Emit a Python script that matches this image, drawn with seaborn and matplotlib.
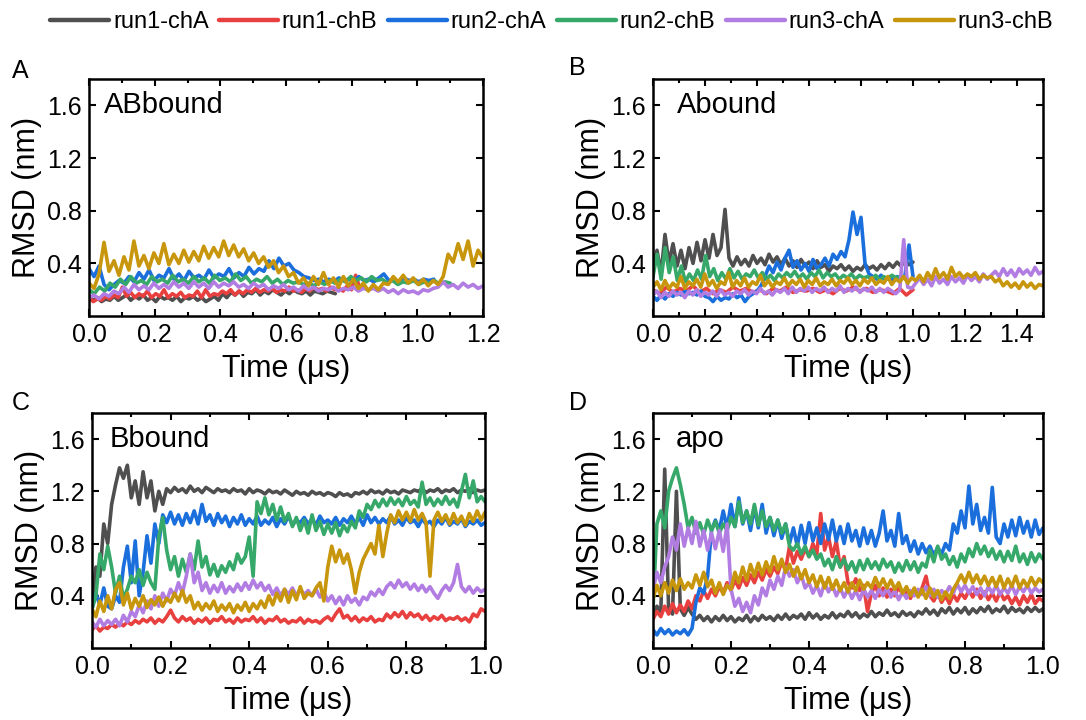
import matplotlib

matplotlib.use("Agg")
import matplotlib.pyplot as plt
import numpy as np
import pandas as pd
import seaborn as sns
from matplotlib.lines import Line2D
from matplotlib.ticker import MultipleLocator

sns.set_theme(style="ticks")
plt.rcParams["font.family"] = ["Liberation Sans", "DejaVu Sans"]
plt.rcParams["text.color"] = "black"
plt.rcParams["axes.labelcolor"] = "black"

SERIES = ["run1-chA", "run1-chB", "run2-chA", "run2-chB", "run3-chA", "run3-chB"]
COLORS = ["#4f4f4f", "#e8403f", "#1b6fdc", "#36a86a", "#b27de2", "#c8960c"]
PANEL_TITLES = ["ABbound", "Abound", "Bbound", "apo"]
PANEL_LETTERS = ["A", "B", "C", "D"]
XMAX = [1.2, 1.5, 1.0, 1.0]

# ---- ABbound (evenly spaced in time up to END) ----
AB_END = [0.75, 0.85, 1.05, 1.1, 1.2, 1.2]
ab_r1a = [0.15,0.12,0.14,0.11,0.13,0.12,0.15,0.12,0.14,0.16,0.12,0.15,0.13,0.16,0.12,0.14,0.11,0.15,0.13,0.14,
          0.12,0.15,0.11,0.14,0.13,0.15,0.12,0.14,0.11,0.13,0.15,0.12,0.17,0.14,0.18,0.16,0.19,0.15,0.18,0.17,
          0.2,0.16,0.19,0.17,0.2,0.18,0.16,0.19,0.17,0.2,0.18,0.17,0.19,0.16,0.19,0.18,0.17,0.19,0.18,0.17]
ab_r1b = [0.14,0.11,0.13,0.12,0.15,0.13,0.16,0.14,0.22,0.15,0.18,0.14,0.17,0.15,0.19,0.14,0.17,0.15,0.2,0.14,
          0.17,0.15,0.18,0.14,0.16,0.15,0.19,0.14,0.2,0.15,0.17,0.16,0.19,0.17,0.2,0.16,0.19,0.17,0.2,0.18,
          0.21,0.18,0.2,0.19,0.21,0.18,0.2,0.19,0.22,0.19,0.2,0.18,0.21,0.19,0.22,0.2,0.21,0.19,0.22,0.2,
          0.21,0.19,0.23,0.2,0.31,0.21,0.22,0.2]
ab_r2a = [0.36,0.3,0.38,0.24,0.2,0.24,0.27,0.25,0.3,0.26,0.33,0.28,0.35,0.27,0.31,0.29,0.36,0.28,0.32,0.27,
          0.34,0.29,0.31,0.28,0.35,0.29,0.32,0.3,0.36,0.29,0.33,0.3,0.37,0.32,0.36,0.34,0.42,0.36,0.44,0.38,
          0.4,0.35,0.33,0.3,0.29,0.27,0.28,0.26,0.28,0.26,0.29,0.27,0.28,0.26,0.3,0.27,0.28,0.26,0.29,0.32,
          0.27,0.28,0.26,0.29,0.27,0.28,0.26,0.28,0.27,0.28]
ab_r2b = [0.2,0.17,0.22,0.19,0.25,0.22,0.28,0.24,0.3,0.25,0.27,0.24,0.3,0.26,0.28,0.25,0.31,0.26,0.28,0.25,
          0.3,0.26,0.29,0.25,0.31,0.27,0.29,0.26,0.32,0.27,0.3,0.25,0.28,0.26,0.3,0.25,0.28,0.24,0.27,0.25,
          0.26,0.24,0.25,0.23,0.26,0.24,0.27,0.25,0.28,0.26,0.3,0.27,0.29,0.26,0.3,0.27,0.28,0.25,0.27,0.24,
          0.26,0.25,0.27,0.24,0.26,0.25,0.27,0.24,0.26,0.25]
ab_r3a = [0.14,0.16,0.13,0.17,0.15,0.19,0.17,0.22,0.18,0.24,0.2,0.23,0.2,0.25,0.21,0.24,0.21,0.26,0.22,0.25,
          0.21,0.26,0.22,0.25,0.21,0.26,0.22,0.25,0.23,0.26,0.22,0.24,0.21,0.25,0.22,0.24,0.2,0.23,0.21,0.24,
          0.2,0.22,0.19,0.23,0.2,0.22,0.19,0.21,0.2,0.22,0.19,0.21,0.2,0.22,0.19,0.21,0.2,0.21,0.19,0.21,
          0.18,0.2,0.17,0.2,0.18,0.19,0.17,0.2,0.19,0.21,0.22,0.26,0.22,0.24,0.21,0.25,0.22,0.24,0.21,0.23]
ab_r3b = [0.25,0.21,0.32,0.56,0.34,0.42,0.31,0.45,0.35,0.57,0.38,0.46,0.36,0.48,0.4,0.55,0.39,0.47,0.4,0.5,
          0.41,0.49,0.42,0.53,0.44,0.52,0.45,0.57,0.46,0.54,0.45,0.51,0.42,0.48,0.4,0.45,0.37,0.42,0.33,0.38,
          0.3,0.33,0.25,0.29,0.23,0.3,0.24,0.33,0.24,0.29,0.22,0.3,0.23,0.28,0.21,0.25,0.19,0.24,0.2,0.25,
          0.24,0.3,0.26,0.31,0.25,0.29,0.24,0.28,0.23,0.27,0.24,0.3,0.47,0.41,0.55,0.43,0.57,0.38,0.5,0.44]

# ---- Abound ----
B_END = [1.0, 1.0, 1.0, 0.95, 1.5, 1.5]
bb_r1a = [0.38,0.5,0.32,0.62,0.4,0.55,0.38,0.5,0.36,0.52,0.4,0.56,0.42,0.58,0.44,0.62,0.46,0.52,0.81,0.44,
          0.38,0.45,0.39,0.43,0.38,0.46,0.4,0.44,0.39,0.47,0.41,0.45,0.39,0.44,0.38,0.42,0.37,0.43,0.38,0.41,
          0.36,0.42,0.37,0.39,0.34,0.38,0.36,0.39,0.35,0.38,0.34,0.37,0.35,0.39,0.36,0.38,0.35,0.39,0.36,0.4,
          0.37,0.41,0.38,0.42,0.39,0.41]
bb_r1b = [0.2,0.17,0.22,0.18,0.21,0.19,0.23,0.18,0.21,0.17,0.2,0.18,0.22,0.19,0.21,0.18,0.2,0.17,0.21,0.19,
          0.22,0.18,0.2,0.19,0.21,0.18,0.2,0.17,0.21,0.19,0.22,0.19,0.21,0.18,0.2,0.19,0.17,0.21,0.16,0.2]
bb_r2a = [0.15,0.12,0.16,0.13,0.17,0.15,0.18,0.16,0.19,0.17,0.18,0.16,0.19,0.15,0.14,0.11,0.15,0.12,0.14,0.13,
          0.17,0.14,0.16,0.11,0.15,0.17,0.19,0.23,0.3,0.38,0.33,0.41,0.35,0.44,0.5,0.37,0.42,0.35,0.4,0.34,
          0.43,0.36,0.39,0.44,0.38,0.47,0.43,0.49,0.45,0.58,0.79,0.62,0.75,0.4,0.32,0.3,0.28,0.31,0.28,0.3,
          0.27,0.3,0.28,0.31,0.54,0.3]
bb_r2b = [0.3,0.47,0.28,0.52,0.33,0.45,0.27,0.38,0.26,0.32,0.27,0.35,0.28,0.46,0.3,0.36,0.27,0.33,0.28,0.36,
          0.29,0.34,0.28,0.32,0.3,0.35,0.29,0.33,0.28,0.31,0.27,0.32,0.29,0.33,0.3,0.34,0.29,0.32,0.28,0.33,
          0.3,0.35,0.29,0.33,0.3,0.32,0.28,0.31,0.29,0.32,0.28,0.31,0.29,0.3,0.28,0.31,0.27,0.3,0.28,0.31,
          0.29,0.3]
bb_r3a = [0.16,0.19,0.14,0.18,0.15,0.19,0.16,0.18,0.14,0.19,0.16,0.2,0.15,0.18,0.16,0.19,0.15,0.2,0.16,0.18,
          0.15,0.19,0.17,0.2,0.16,0.19,0.17,0.21,0.17,0.19,0.16,0.2,0.18,0.21,0.17,0.22,0.18,0.21,0.19,0.22,
          0.18,0.21,0.19,0.22,0.18,0.21,0.19,0.23,0.18,0.21,0.19,0.22,0.18,0.21,0.19,0.22,0.18,0.21,0.18,0.21,
          0.19,0.17,0.2,0.58,0.22,0.21,0.25,0.29,0.24,0.28,0.23,0.3,0.25,0.28,0.24,0.3,0.26,0.29,0.25,0.31,
          0.27,0.3,0.26,0.32,0.28,0.31,0.34,0.3,0.36,0.31,0.35,0.3,0.36,0.32,0.35,0.31,0.37,0.32,0.34]
bb_r3b = [0.22,0.26,0.2,0.27,0.21,0.25,0.22,0.3,0.21,0.26,0.23,0.28,0.22,0.32,0.23,0.27,0.21,0.26,0.24,0.33,
          0.22,0.27,0.23,0.29,0.22,0.26,0.24,0.31,0.23,0.27,0.22,0.26,0.24,0.29,0.23,0.27,0.24,0.28,0.22,0.27,
          0.24,0.29,0.23,0.26,0.24,0.28,0.23,0.27,0.25,0.29,0.24,0.27,0.23,0.28,0.25,0.29,0.24,0.27,0.25,0.3,
          0.24,0.28,0.26,0.3,0.25,0.29,0.27,0.31,0.26,0.33,0.28,0.36,0.29,0.33,0.28,0.37,0.3,0.33,0.29,0.32,
          0.3,0.33,0.28,0.31,0.29,0.3,0.26,0.28,0.23,0.26,0.22,0.25,0.21,0.26,0.22,0.25,0.21,0.24,0.23]

# ---- Bbound ----
C_END = [1.0, 1.0, 1.0, 1.0, 1.0, 1.0]
cb_r1a = [0.35,0.62,0.55,0.95,0.8,1.1,1.25,1.38,1.3,1.4,1.15,1.28,1.1,1.35,1.15,1.28,1.05,1.2,1.1,1.22,
          1.19,1.23,1.2,1.22,1.19,1.24,1.2,1.22,1.19,1.23,1.21,1.19,1.22,1.2,1.21,1.19,1.22,1.2,1.21,1.18,
          1.22,1.19,1.21,1.2,1.18,1.21,1.19,1.2,1.18,1.21,1.19,1.17,1.2,1.18,1.19,1.17,1.2,1.18,1.19,1.17,
          1.19,1.18,1.16,1.19,1.17,1.18,1.16,1.19,1.18,1.2,1.18,1.21,1.19,1.2,1.18,1.21,1.19,1.2,1.18,1.21,
          1.2,1.19,1.21,1.2,1.22,1.19,1.21,1.2,1.22,1.19,1.21,1.2,1.22,1.19,1.21,1.2,1.22,1.19,1.21,1.2,1.21]
cb_r1b = [0.14,0.17,0.13,0.16,0.15,0.18,0.16,0.19,0.17,0.2,0.18,0.21,0.19,0.22,0.2,0.23,0.19,0.22,0.2,0.24,
          0.29,0.23,0.2,0.24,0.21,0.23,0.19,0.22,0.2,0.23,0.19,0.22,0.21,0.24,0.2,0.22,0.19,0.23,0.2,0.22,
          0.21,0.24,0.2,0.23,0.19,0.22,0.21,0.24,0.2,0.22,0.19,0.21,0.2,0.23,0.19,0.22,0.2,0.21,0.19,0.22,
          0.24,0.21,0.26,0.3,0.23,0.25,0.21,0.24,0.2,0.23,0.21,0.24,0.2,0.22,0.21,0.26,0.23,0.27,0.24,0.28,
          0.23,0.27,0.24,0.26,0.22,0.25,0.21,0.24,0.22,0.25,0.21,0.23,0.22,0.24,0.21,0.23,0.2,0.26,0.24,0.3,0.28]
cb_r2a = [0.3,0.42,0.33,0.46,0.32,0.3,0.4,0.35,0.62,0.78,0.5,0.82,0.4,0.58,0.86,0.65,0.95,0.8,1.02,0.96,
          1.04,0.95,1.02,0.94,1.03,0.96,1.05,0.95,1.1,0.97,1.02,0.94,1.03,0.96,1.01,0.93,1.0,0.95,1.02,0.94,
          0.99,0.95,1.01,0.94,0.98,0.95,1.0,0.93,0.99,0.95,1.01,0.94,0.98,0.96,1.0,0.95,0.99,0.94,1.01,0.96,
          0.98,0.95,1.0,0.94,0.99,0.96,1.01,0.95,1.0,0.94,1.02,0.96,1.0,0.95,0.99,0.96,1.01,0.95,0.98,0.94,
          1.0,0.96,0.98,0.93,0.99,0.95,0.97,0.93,0.98,0.95,1.0,0.94,0.97,0.95,0.99,0.93,0.97,0.95,0.98,0.94,0.96]
cb_r2b = [0.3,0.4,0.72,0.6,0.78,0.62,0.42,0.55,0.38,0.45,0.55,0.5,0.6,0.48,0.58,0.5,0.45,0.85,1.0,0.75,
          0.6,0.7,0.55,0.68,0.58,0.72,0.6,0.82,0.62,0.7,0.56,0.64,0.55,0.63,0.58,0.66,0.6,0.72,0.65,0.7,
          0.85,0.55,1.12,1.03,1.15,1.02,1.1,0.98,1.08,0.97,1.03,0.93,1.0,0.9,0.98,0.88,1.02,0.9,0.97,0.87,
          0.95,0.88,0.96,0.86,0.94,0.89,0.97,0.92,1.05,1.0,1.1,1.06,1.13,1.08,1.14,1.09,1.15,1.1,1.14,1.09,
          1.16,1.1,1.13,1.08,1.27,1.1,1.15,1.09,1.14,1.1,1.16,1.1,1.14,1.08,1.2,1.33,1.15,1.28,1.12,1.16,1.12]
cb_r3a = [0.2,0.16,0.22,0.17,0.21,0.18,0.22,0.17,0.25,0.2,0.28,0.24,0.33,0.27,0.36,0.3,0.4,0.32,0.42,0.36,
          0.45,0.4,0.5,0.42,0.55,0.72,0.5,0.58,0.44,0.5,0.42,0.48,0.43,0.5,0.42,0.47,0.43,0.49,0.44,0.5,
          0.45,0.52,0.46,0.5,0.44,0.48,0.41,0.46,0.4,0.45,0.41,0.46,0.4,0.45,0.41,0.44,0.4,0.45,0.39,0.43,
          0.36,0.4,0.34,0.39,0.33,0.4,0.35,0.38,0.33,0.39,0.37,0.43,0.4,0.45,0.41,0.47,0.5,0.46,0.52,0.47,
          0.5,0.45,0.49,0.44,0.48,0.43,0.47,0.42,0.38,0.44,0.48,0.44,0.5,0.64,0.47,0.43,0.47,0.42,0.46,0.43,0.45]
cb_r3b = [0.3,0.24,0.36,0.28,0.4,0.3,0.45,0.5,0.33,0.42,0.3,0.38,0.32,0.4,0.31,0.37,0.33,0.39,0.32,0.38,
          0.35,0.42,0.36,0.44,0.35,0.4,0.3,0.35,0.29,0.34,0.3,0.36,0.28,0.33,0.29,0.34,0.27,0.33,0.29,0.35,
          0.28,0.34,0.3,0.36,0.31,0.4,0.33,0.42,0.36,0.45,0.35,0.44,0.37,0.47,0.38,0.42,0.4,0.46,0.5,0.36,
          0.62,0.78,0.66,0.75,0.65,0.72,0.6,0.42,0.58,0.68,0.74,0.8,0.72,0.94,0.7,0.88,1.02,0.96,1.05,0.98,
          1.04,0.97,1.06,0.98,1.03,0.96,0.55,0.98,1.04,0.97,1.02,0.95,1.03,0.96,1.01,0.94,1.03,0.97,1.05,0.98,1.04]

# ---- apo ----
D_END = [1.0, 1.0, 1.0, 1.0, 1.0, 1.0]
db_r1a = [0.25,0.32,0.27,1.37,0.3,0.26,1.2,0.3,0.25,0.31,0.26,0.22,0.25,0.21,0.24,0.2,0.24,0.21,0.25,0.21,
          0.24,0.2,0.23,0.21,0.25,0.2,0.24,0.21,0.25,0.22,0.24,0.21,0.25,0.22,0.26,0.22,0.25,0.23,0.26,0.22,
          0.27,0.23,0.26,0.22,0.25,0.23,0.27,0.23,0.26,0.24,0.28,0.24,0.27,0.23,0.26,0.24,0.28,0.24,0.27,0.25,
          0.29,0.25,0.27,0.24,0.28,0.25,0.27,0.24,0.28,0.26,0.3,0.26,0.29,0.25,0.3,0.27,0.31,0.26,0.3,0.27,
          0.31,0.26,0.3,0.27,0.31,0.28,0.32,0.27,0.3,0.28,0.32,0.27,0.31,0.28,0.3,0.27,0.31,0.28,0.31,0.28,0.3]
db_r1b = [0.22,0.28,0.24,0.32,0.26,0.34,0.27,0.33,0.28,0.36,0.3,0.4,0.36,0.44,0.38,0.45,0.4,0.47,0.42,0.5,
          0.44,0.52,0.46,0.54,0.48,0.56,0.5,0.58,0.52,0.6,0.55,0.62,0.57,0.66,0.6,0.78,0.65,0.74,0.68,0.76,
          0.7,0.8,0.72,1.03,0.75,0.85,0.7,0.82,0.62,0.7,0.5,0.46,0.53,0.44,0.48,0.28,0.42,0.48,0.4,0.46,
          0.39,0.45,0.4,0.47,0.41,0.44,0.38,0.45,0.4,0.46,0.55,0.4,0.36,0.42,0.35,0.4,0.34,0.41,0.36,0.42,
          0.38,0.44,0.39,0.45,0.38,0.43,0.37,0.42,0.36,0.43,0.37,0.4,0.34,0.39,0.33,0.4,0.35,0.41,0.34,0.38,0.36]
db_r2a = [0.14,0.1,0.15,0.11,0.14,0.1,0.13,0.11,0.14,0.1,0.15,0.35,0.46,0.42,0.55,0.9,0.98,0.9,1.05,0.92,
          1.1,0.93,1.15,0.95,1.05,0.9,1.08,0.92,1.1,0.88,1.0,0.86,0.98,0.84,0.95,0.8,0.92,0.78,0.94,0.8,
          0.96,0.82,0.92,0.8,0.95,0.83,0.98,0.82,0.93,0.8,0.95,0.82,0.9,0.78,0.92,0.8,0.9,0.78,0.88,1.05,
          0.82,0.9,0.78,1.03,0.8,0.86,0.74,0.82,0.72,0.8,0.73,0.78,0.71,0.77,0.72,0.8,0.75,0.95,0.88,1.05,
          0.92,1.24,0.95,1.1,0.9,1.0,0.88,1.23,0.85,0.8,0.95,0.85,0.98,0.86,1.0,0.88,0.97,0.85,0.98,0.87,0.92]
db_r2b = [0.3,0.95,1.05,0.92,1.2,1.3,1.38,1.25,1.1,0.92,1.0,0.88,0.96,0.87,0.98,0.9,0.97,0.88,0.95,0.9,
          1.0,0.93,1.12,0.96,1.05,0.95,1.1,0.94,1.05,0.93,1.0,0.9,0.98,0.88,0.95,0.78,0.75,0.8,0.72,0.78,
          0.7,0.75,0.68,0.72,0.63,0.68,0.6,0.7,0.62,0.68,0.6,0.66,0.58,0.67,0.6,0.68,0.61,0.66,0.6,0.68,
          0.62,0.66,0.58,0.65,0.59,0.67,0.6,0.66,0.58,0.65,0.62,0.75,0.66,0.78,0.68,0.72,0.64,0.7,0.62,0.72,
          0.66,0.76,0.7,0.8,0.72,0.78,0.7,0.76,0.68,0.74,0.66,0.74,0.67,0.78,0.66,0.72,0.64,0.73,0.66,0.72,0.68]
db_r3a = [0.45,0.58,0.5,0.62,0.7,0.85,0.75,0.95,0.78,0.92,0.8,0.97,0.78,0.9,0.75,0.88,0.76,0.9,0.74,0.95,
          0.45,0.32,0.38,0.28,0.35,0.27,0.4,0.33,0.46,0.4,0.52,0.45,0.55,0.48,0.62,0.55,0.6,0.5,0.56,0.46,
          0.5,0.42,0.48,0.4,0.5,0.43,0.48,0.4,0.46,0.39,0.45,0.38,0.44,0.37,0.45,0.39,0.44,0.38,0.45,0.4,
          0.46,0.39,0.44,0.37,0.43,0.38,0.44,0.4,0.45,0.41,0.47,0.4,0.45,0.39,0.44,0.41,0.47,0.42,0.49,0.43,
          0.48,0.42,0.47,0.41,0.46,0.4,0.47,0.42,0.48,0.41,0.46,0.42,0.48,0.41,0.47,0.43,0.48,0.42,0.46,0.43,0.45]
db_r3b = [0.38,0.48,0.4,0.5,0.42,0.52,0.44,0.53,0.45,0.5,0.46,0.56,0.48,0.58,0.47,0.52,0.42,0.5,0.41,0.48,
          0.45,0.58,0.5,0.62,0.52,0.64,0.55,0.65,0.56,0.66,0.58,0.7,0.6,0.68,0.58,0.64,0.55,0.62,0.53,0.6,
          0.5,0.56,0.47,0.55,0.46,0.54,0.45,0.52,0.44,0.5,0.43,0.5,0.44,0.52,0.45,0.5,0.46,0.54,0.47,0.53,
          0.46,0.52,0.45,0.5,0.42,0.47,0.4,0.46,0.39,0.45,0.38,0.46,0.39,0.44,0.37,0.43,0.38,0.45,0.5,0.56,
          0.5,0.58,0.5,0.56,0.49,0.55,0.48,0.54,0.47,0.55,0.46,0.53,0.47,0.55,0.46,0.52,0.47,0.54,0.48,0.53,0.5]

PANELS = [
    (AB_END, [ab_r1a, ab_r1b, ab_r2a, ab_r2b, ab_r3a, ab_r3b]),
    (B_END, [bb_r1a, bb_r1b, bb_r2a, bb_r2b, bb_r3a, bb_r3b]),
    (C_END, [cb_r1a, cb_r1b, cb_r2a, cb_r2b, cb_r3a, cb_r3b]),
    (D_END, [db_r1a, db_r1b, db_r2a, db_r2b, db_r3a, db_r3b]),
]


def panel_frame(ends, series_vals):
    parts = []
    for name, end, vals in zip(SERIES, ends, series_vals):
        parts.append(pd.DataFrame({"t": np.linspace(0, end, len(vals)),
                                   "rmsd": vals, "run": name}))
    return pd.concat(parts, ignore_index=True)


# axes boxes in figure fractions [left, bottom, width, height]
BOXES = [[0.082, 0.561, 0.3628, 0.3292],
         [0.6013, 0.561, 0.3591, 0.3292],
         [0.0847, 0.100, 0.3619, 0.3264],
         [0.6013, 0.100, 0.3591, 0.3264]]
TITLE_X = [0.038, 0.062, 0.046, 0.059]
LETTER_POS = [(0.011, 0.892), (0.524, 0.896), (0.011, 0.431), (0.524, 0.431)]

fig = plt.figure(figsize=(10.86, 7.2), dpi=100)
pal = dict(zip(SERIES, COLORS))

for i, (ends, vals) in enumerate(PANELS):
    ax = fig.add_axes(BOXES[i])
    df = panel_frame(ends, vals)
    sns.lineplot(data=df, x="t", y="rmsd", hue="run", hue_order=SERIES, palette=pal,
                 estimator=None, sort=False, lw=2.6, legend=False, ax=ax)
    ax.set_xlim(0, XMAX[i]); ax.set_ylim(0, 1.8)
    ax.xaxis.set_major_locator(MultipleLocator(0.2))
    ax.xaxis.set_minor_locator(MultipleLocator(0.1))
    ax.set_yticks([0.4, 0.8, 1.2, 1.6])
    ax.tick_params(which="both", direction="in", top=True, right=True, width=1.5,
                   labelsize=18, pad=5, colors="black")
    ax.tick_params(which="major", length=5)
    ax.tick_params(which="minor", length=3)
    for s in ax.spines.values():
        s.set_linewidth(1.8); s.set_color("black")
    ax.set_xlabel("Time (μs)", fontsize=22, labelpad=5)
    ax.set_ylabel("RMSD (nm)", fontsize=22, labelpad=4)
    ax.text(TITLE_X[i], 0.95, PANEL_TITLES[i], transform=ax.transAxes,
            fontsize=21, va="top", ha="left")
    fig.text(LETTER_POS[i][0], LETTER_POS[i][1], PANEL_LETTERS[i], fontsize=18,
             va="baseline", ha="left")

handles = [Line2D([], [], color=c, lw=3.2, solid_capstyle="round") for c in COLORS]
fig.legend(handles, SERIES, loc="center", bbox_to_anchor=(0.508, 0.969), ncol=6,
           frameon=False, fontsize=17, handlelength=2.5, handletextpad=0.15,
           columnspacing=0.45)

fig.savefig("out.png", dpi=100)
